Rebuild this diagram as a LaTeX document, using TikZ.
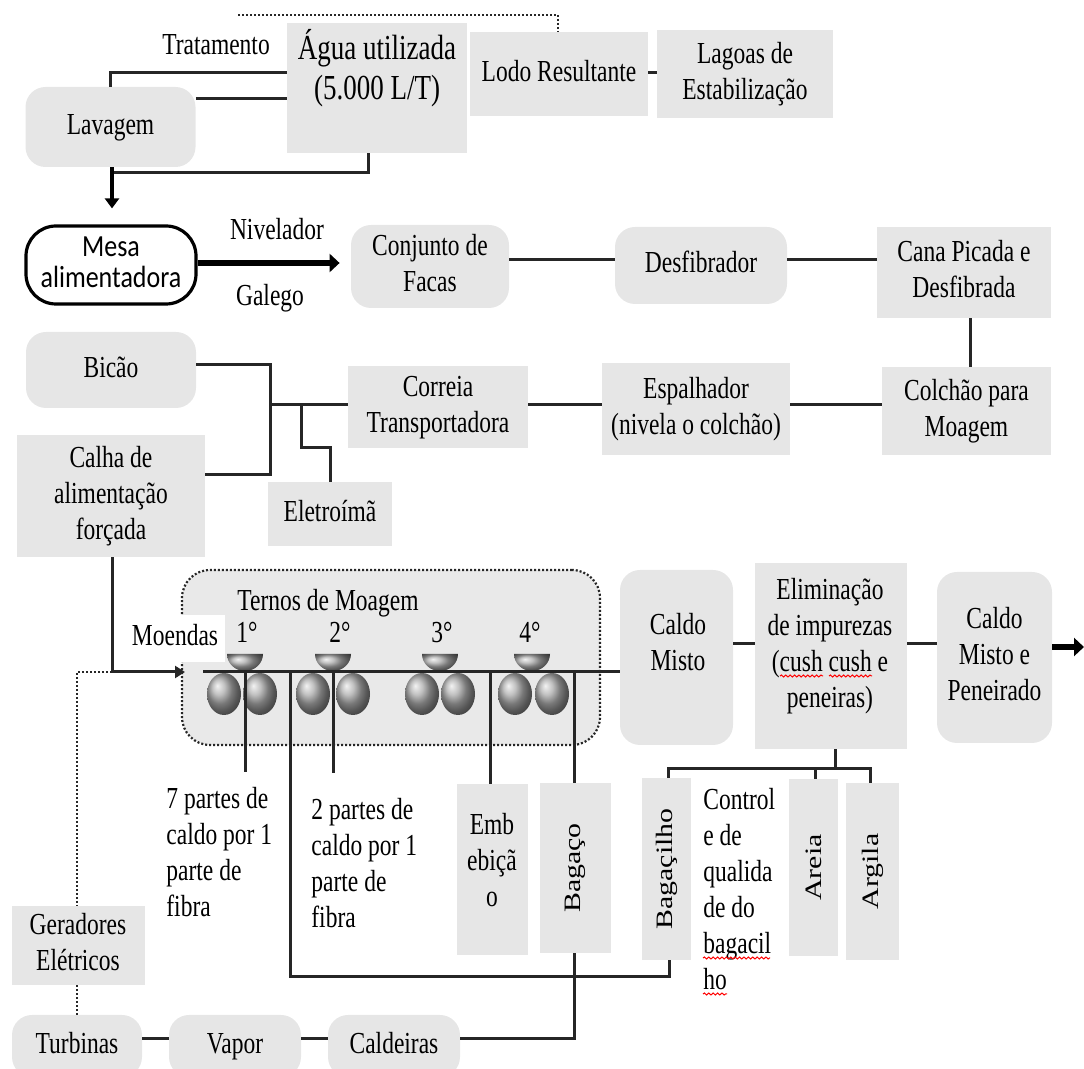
\documentclass[tikz,border=0pt]{standalone}
\usepackage{fontspec}
\setmainfont{Liberation Serif}
\newfontfamily\mesafont{Carlito}
\usepackage{graphicx}
\usetikzlibrary{arrows.meta,decorations.pathmorphing}

\definecolor{boxgray}{RGB}{230,230,230}
\definecolor{millgray}{RGB}{233,233,233}
\definecolor{linegray}{RGB}{38,38,38}

% text set a little taller than wide, as in the original layout
\newcommand{\ctext}[1]{\scalebox{1}[1.3]{\begin{tabular}{@{}c@{}}#1\end{tabular}}}
\newcommand{\ltext}[1]{\scalebox{1}[1.3]{\begin{tabular}{@{}l@{}}#1\end{tabular}}}
\newcommand{\uptext}[1]{\rotatebox{90}{\scalebox{1.27}[1]{#1}}}
\newcommand{\mtext}[1]{\scalebox{1}[1.18]{\begin{tabular}{@{}c@{}}#1\end{tabular}}}

\begin{document}
\begin{tikzpicture}[x=0.5pt,y=-0.5pt,
  font=\fontsize{11.75}{13.85}\selectfont,
  sq/.style={fill=boxgray, inner sep=0pt, text=black},
  rnd/.style={sq, rounded corners=10pt},
  wh/.style 2 args={minimum width=#1*0.5pt, minimum height=#2*0.5pt},
  txt/.style={inner sep=0pt, text=black},
  link/.style={draw=linegray, line width=1.5pt},
  dots/.style={draw=linegray, line width=1.1pt, dash pattern=on 1pt off 1pt},
  fatarrow/.style={draw=black, line width=#1, -{Triangle[length=5pt,width=9pt]}},
  roller/.style={ball color=gray!65},
  squiggle/.style={draw=red, line width=0.5pt, decorate,
    decoration={snake, amplitude=0.5pt, segment length=2.2pt}}
]
\useasboundingbox (0,0) rectangle (1084,1069);

% ---------- washing ----------
\node[rnd, wh={170}{80}] (lav) at (110.5,127) {\ctext{Lavagem}};
\node[txt] (trat) at (216,47) {\ctext{Tratamento}};
\node[sq, wh={180}{130}] (agua) at (377,88) {};
\node[txt, font=\fontsize{13.5}{15.4}\selectfont] (aguat) at (377,70) {\ctext{Água utilizada\\(5.000 L/T)}};
\node[sq, wh={178}{84}] (lodo) at (559,74) {\ctext{Lodo Resultante}};
\node[sq, wh={176}{88}] (lagoas) at (745,74) {\ctext{Lagoas de\\Estabilização}};
\coordinate (dotstart) at (238,15);
\coordinate (lavdrop) at (112,173);

\draw[dots] (dotstart) -| (lodo.north -| 558,0);
\draw[link] (lav.north) |- (agua.west |- 0,73);
\draw[link] (lav.east |- 0,99) -- (agua.west |- 0,99);
\draw[link] (agua.south -| 368,0) |- (lavdrop);
\draw[link] (lodo.east |- 0,73) -- (lagoas.west |- 0,73);

% ---------- feeding and preparation ----------
\node[draw=black, line width=1.6pt, fill=white, rounded corners=15pt, inner sep=0pt, wh={170}{78}] (mesa) at (111,265)
  {\mesafont\fontsize{13}{15}\selectfont\mtext{Mesa\\[-2pt]alimentadora}};
\draw[fatarrow=2pt, -{Triangle[length=5pt,width=7pt]}, shorten >=8pt] (lav.south -| lavdrop) -- (mesa.north -| lavdrop);

\node[txt] (niv) at (277,232) {\ctext{Nivelador}};
\node[txt] (gal) at (270,298) {\ctext{Galego}};
\node[rnd, wh={158}{83}] (facas) at (430,266.5) {\ctext{Conjunto de\\Facas}};
\node[rnd, wh={172}{77}] (desf) at (701,265.5) {\ctext{Desfibrador}};
\node[sq, wh={174}{91}] (cana) at (964,272.5) {\ctext{Cana Picada e\\Desfibrada}};
\draw[fatarrow=3.2pt, shorten >=5.5pt] (mesa.east |- 0,263) -- (facas.west |- 0,263);
\draw[link] (facas.east |- 0,260) -- (desf.west |- 0,260);
\draw[link] (desf.east |- 0,260) -- (cana.west |- 0,260);

\node[rnd, wh={170}{76}] (bicao) at (111,370) {\ctext{Bicão}};
\node[sq, wh={169}{88}] (colchao) at (966.5,411) {\ctext{Colchão para\\Moagem}};
\node[sq, wh={188}{92}] (espalh) at (696,409) {\ctext{Espalhador\\(nivela o colchão)}};
\node[sq, wh={180}{82}] (correia) at (438,407) {\ctext{Correia\\Transportadora}};
\node[sq, wh={188}{122}] (calha) at (111,496) {\ctext{Calha de\\alimentação\\forçada}};
\node[sq, wh={124}{64}] (eletro) at (330,514) {\ctext{Eletroímã}};
\coordinate (jn) at (270,405);

\draw[link] (cana.south -| 970,0) -- (colchao.north -| 970,0);
\draw[link] (colchao.west |- 0,405) -- (espalh.east |- 0,405);
\draw[link] (espalh.west |- 0,405) -- (correia.east |- 0,405);
\draw[link] (correia.west |- jn) -- (jn);
\draw[link] (bicao.east |- 0,365) -| (jn |- 0,475) -- (calha.east |- 0,475);
\draw[link] (301,405) |- (330,448) -- (eletro.north);

% ---------- milling tandem ----------
\node[dots, fill=millgray, rounded corners=14pt, inner sep=0pt, wh={418}{175}] (mill) at (391,657.5) {};
\node[txt] (ternos) at (328,603) {\ctext{Ternos de Moagem}};
\node[txt] (t1) at (247,635) {\ctext{1°}};
\node[txt] (t2) at (340,635) {\ctext{2°}};
\node[txt] (t3) at (442,635) {\ctext{3°}};
\node[txt] (t4) at (530,635) {\ctext{4°}};
\node[fill=white, inner sep=0pt, wh={100}{47}] (moendas) at (175,638.5) {\ctext{Moendas}};

\foreach \c/\l/\r in {245/224/260, 333/313/353, 440/422/458, 532/515/552} {
  \shade[roller] (\l,694) ellipse [x radius=17, y radius=21];
  \shade[roller] (\r,694) ellipse [x radius=17, y radius=21];
  \shade[roller] (\c-18,654) arc[start angle=180, end angle=0, x radius=18, y radius=17] -- cycle;
}

\node[rnd, wh={113}{175}] (caldo) at (676.5,657.5) {};
\node[txt] (caldot) at (678,645) {\ctext{Caldo\\Misto}};
\node[sq, wh={152}{186}] (elim) at (831,656) {};
\node[txt] (elimt) at (830,646) {\ctext{Eliminação\\de impurezas\\(cush cush e\\peneiras)}};
\node[rnd, wh={115}{171}] (cmp) at (994.5,657.5) {\ctext{Caldo\\Misto e\\Peneirado}};
\coordinate (out) at (1084,647);

\coordinate (feed) at (185,672);
\coordinate (mainstart) at (203,672);
\draw[link, -{Triangle[length=5pt,width=6pt]}] (calha.south -| 112,0) |- (feed);
\draw[link] (mainstart) -- (caldo.west |- 0,672);
\draw[link] (caldo.east |- 0,644) -- (elim.west |- 0,644);
\draw[link] (elim.east |- 0,644) -- (cmp.west |- 0,644);
\draw[fatarrow=2.6pt] (cmp.east |- 0,647) -- (out);

% ---------- products of the mills ----------
\node[sq, wh={71}{171}] (emb) at (492.5,870) {};
\node[txt] (embt) at (492,863) {\ctext{Emb\\ebiçã\\o}};
\node[sq, wh={71}{170}] (bagaco) at (575.5,868) {\uptext{Bagaço}};
\node[sq, wh={49}{182}] (bagacilho) at (666.5,869) {\uptext{Bagaçilho}};
\node[sq, wh={49}{177}] (areia) at (813.5,867.5) {\uptext{Areia}};
\node[sq, wh={53}{177}] (argila) at (872.5,871.5) {\uptext{Argila}};
\node[txt, anchor=west] (control) at (703,892) {\ltext{Control\\e de\\qualida\\de do\\bagacil\\ho}};
\node[txt, anchor=west] (parte7) at (166,855) {\ltext{7 partes de\\caldo por 1\\parte de\\fibra}};
\node[txt, anchor=west] (parte2) at (311,866) {\ltext{2 partes de\\caldo por 1\\parte de\\fibra}};

\draw[link] (245,672) -- (245,772);
\draw[link] (333,672) -- (333,773);
\draw[link] (490,672) -- (emb.north -| 490,0);
\draw[link] (574,672) -- (bagaco.north -| 574,0);
\draw[link] (290,672) |- (669,977) -- (bagacilho.south -| 669,0);
\draw[link] (elim.south -| 835,0) -- (835,769);
\draw[link] (bagacilho.north -| 668,0) |- (870,769) -- (argila.north -| 870,0);
\draw[link] (815,769) -- (areia.north -| 815,0);

\draw[squiggle] (780,676) -- (823,676);
\draw[squiggle] (829,676) -- (872,676);
\draw[squiggle] (703,958) -- (770,958);
\draw[squiggle] (703,994) -- (727,994);

% ---------- energy ----------
\node[sq, wh={133}{79}] (geradores) at (78,945.5) {\ctext{Geradores\\Elétricos}};
\node[rnd, wh={130}{62}] (turbinas) at (77,1046) {\ctext{Turbinas}};
\node[rnd, wh={132}{62}] (vapor) at (235,1046) {\ctext{Vapor}};
\node[rnd, wh={132}{62}] (caldeiras) at (394,1046) {\ctext{Caldeiras}};

\draw[dots] (112,672) -- (77,672) -- (geradores.north -| 77,0);
\draw[dots] (geradores.south -| 77,0) -- (turbinas.north -| 77,0);
\draw[link] (bagaco.south -| 574,0) |- (caldeiras.east |- 0,1039);
\draw[link] (caldeiras.west |- 0,1039) -- (vapor.east |- 0,1039);
\draw[link] (vapor.west |- 0,1039) -- (turbinas.east |- 0,1039);
\end{tikzpicture}
\end{document}
